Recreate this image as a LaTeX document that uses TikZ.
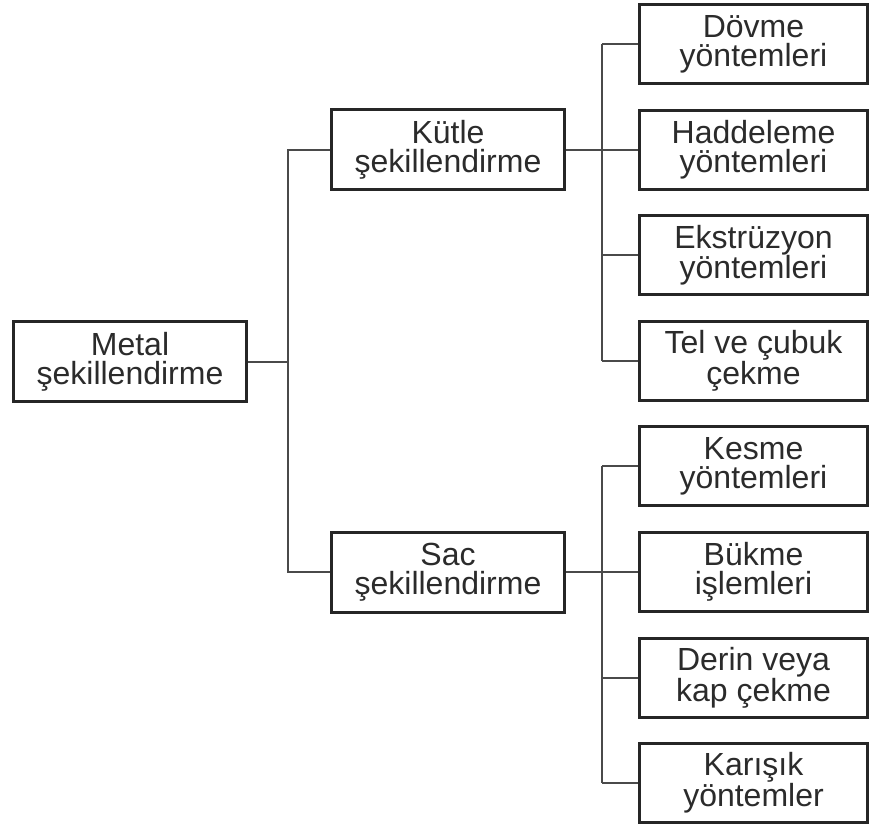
\documentclass[tikz,border=0pt]{standalone}
\usepackage{fontspec}
\setmainfont{Liberation Sans}
\usepackage{xcolor}
\usetikzlibrary{positioning,calc}
\definecolor{boxline}{HTML}{262626}
\definecolor{wire}{HTML}{4A4A4A}
\definecolor{ink}{HTML}{2B2B2B}
\tikzset{
  box/.style={ % image of a process group
    draw=boxline, rectangle, line width=3pt,
    minimum width=233pt, minimum height=80pt,
    inner sep=0pt, align=center, text=ink,
    font=\fontsize{32}{29}\selectfont
  },
  leaf/.style={ % image of a single method
    box, minimum width=228pt, minimum height=79pt
  },
  link/.style={
    draw=wire, line width=2pt
  }
}
\begin{document}
\begin{tikzpicture}[x=1pt, y=1pt, node distance=23.6pt]
  \useasboundingbox (0,0) rectangle (870,-832);

  % right column
  \node[leaf] (dovme) at (753.5,-44) {Dövme\\yöntemleri};
  \node[leaf,below=of dovme] (hadd) {Haddeleme\\yöntemleri};
  \node[leaf,below=of hadd] (ekst) {Ekstrüzyon\\yöntemleri};
  \node[leaf,below=of ekst] (tel) {Tel ve çubuk\\çekme};
  \node[leaf,below=of tel] (kesme) {Kesme\\yöntemleri};
  \node[leaf,below=of kesme] (bukme) {Bükme\\işlemleri};
  \node[leaf,below=of bukme] (derin) {Derin veya\\kap çekme};
  \node[leaf,below=of derin] (karisik) {Karışık\\yöntemler};

  % groups
  \node[box,left=72pt of hadd] (kutle) {Kütle\\şekillendirme};
  \node[box,left=72pt of bukme] (sac) {Sac\\şekillendirme};
  \node[box] (metal) at (130,-361.5) {Metal\\şekillendirme};

  \coordinate (trunk) at ($(metal.east)+(40,0)$);
  \coordinate (kb) at ($(kutle.east)+(36,0)$);
  \coordinate (sb) at ($(sac.east)+(36,0)$);

  \draw[link] (metal.east) -- (trunk);
  \draw[link] (kutle.west) -| (trunk) |- (sac.west);

  \draw[link] (kutle.east) -- (kb);
  \draw[link] (dovme.west -| kb) -- (tel.west -| kb);
  \foreach \n in {dovme,hadd,ekst,tel}
    \draw[link] (\n.west) -- (\n.west -| kb);

  \draw[link] (sac.east) -- (sb);
  \draw[link] (kesme.west -| sb) -- (karisik.west -| sb);
  \foreach \n in {kesme,bukme,derin,karisik}
    \draw[link] (\n.west) -- (\n.west -| sb);
\end{tikzpicture}
\end{document}
